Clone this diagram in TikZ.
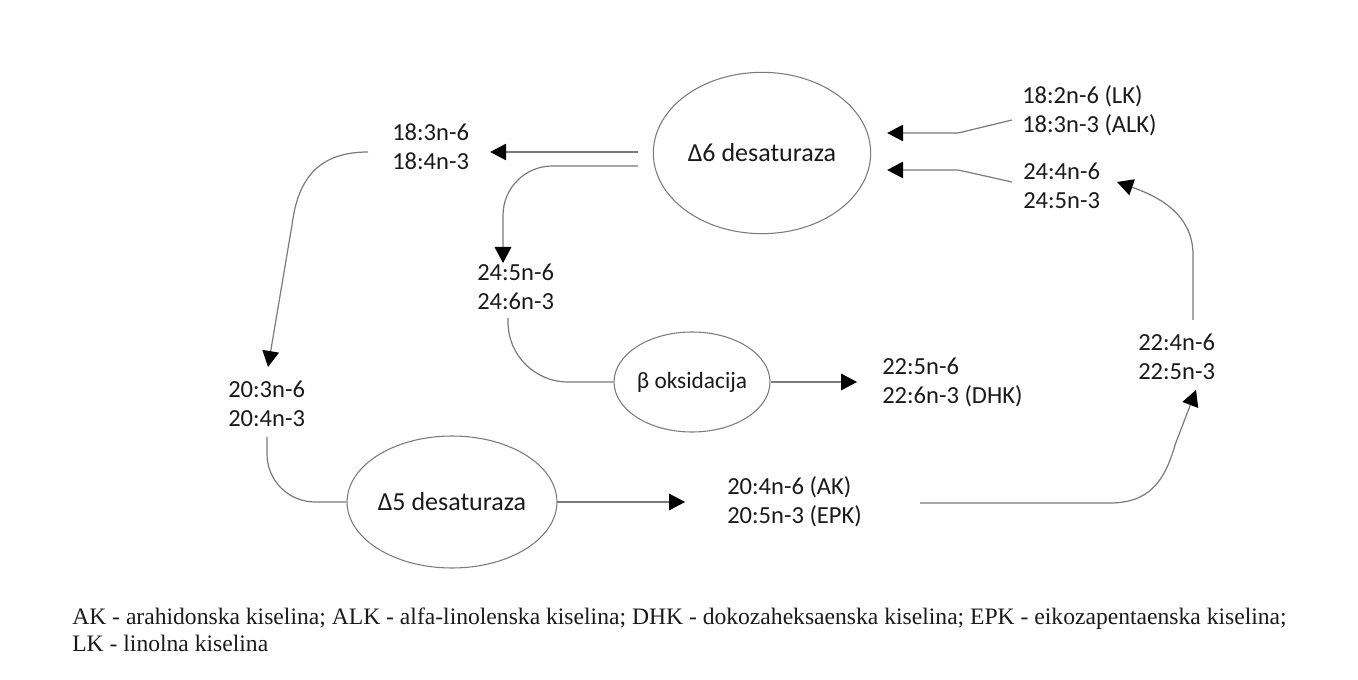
\documentclass[tikz,border=0pt]{standalone}
\usepackage{fontspec}
\setmainfont{Carlito}
\newfontfamily\legfont{Liberation Serif}
\usetikzlibrary{arrows.meta,shapes.geometric,calc}
\definecolor{linegray}{HTML}{7A7A7A}
\definecolor{txt}{HTML}{1A1A1A}
\begin{document}
\begin{tikzpicture}[x=0.75pt,y=-0.75pt,
  lbl/.style={anchor=west,align=left,inner sep=0pt,text=txt,font=\fontsize{18.4}{21.75}\selectfont},
  enz/.style={ellipse,draw=linegray,line width=0.8pt,inner sep=0pt,text=txt,font=\fontsize{19.5}{22}\selectfont},
  conn/.style={draw=linegray,line width=0.9pt,-{Triangle[length=12pt,width=12.5pt,color=black]}},
  plain/.style={draw=linegray,line width=0.9pt}]
\useasboundingbox (0,0) rectangle (1358,680);
% enzymes
\node[enz,minimum width=163pt,minimum height=121pt] (D6) at (762,153) {Δ6 desaturaza};
\node[enz,minimum width=127pt,minimum height=99pt] (D5) at (452,502) {Δ5 desaturaza};
\node[enz,minimum width=91pt,minimum height=75pt,font=\fontsize{17.5}{20}\selectfont] (B) at (692,382) {β oksidacija};
% labels
\node[lbl] (LK) at (1022,111) {18:2n-6 (LK)\\18:3n-3 (ALK)};
\node[lbl] (t24a) at (1023,186) {24:4n-6\\24:5n-3};
\node[lbl] (t18) at (392,147) {18:3n-6\\18:4n-3};
\node[lbl] (t24b) at (477,287) {24:5n-6\\24:6n-3};
\node[lbl] (t20a) at (228,404) {20:3n-6\\20:4n-3};
\node[lbl] (t22a) at (882,382) {22:5n-6\\22:6n-3 (DHK)};
\node[lbl] (t20b) at (727,502) {20:4n-6 (AK)\\20:5n-3 (EPK)};
\node[lbl] (t22b) at (1138,357) {22:4n-6\\22:5n-3};
% legend
\node[anchor=west,align=left,inner sep=0pt,text=txt,font=\legfont\fontsize{17.7}{20.5}\selectfont] (leg) at (72,630)
  {AK - arahidonska kiselina; ALK - alfa-linolenska kiselina; DHK - dokozaheksaenska kiselina; EPK - eikozapentaenska kiselina;\\LK - linolna kiselina};
% connectors
\draw[conn] ($(LK.west)+(-10,9)$) -- ($(D6.east)+(87,-20)$) -- ($(D6.east)+(16,-20)$);
\draw[conn] ($(t24a.west)+(-11,-4)$) -- ($(D6.east)+(87,17)$) -- ($(D6.east)+(16,17)$);
\draw[conn] ($(D6.west)+(-15,-1)$) -- ($(t18.east)+(21,5)$);
\draw[conn,rounded corners=37pt] ($(D6.west)+(-15,13)$) -| ($(t24b.west)+(26,-24)$);
\draw[conn] ($(t18.west)+(-24,5)$) .. controls ($(t18.west)+(-72,5)$) and ($(t18.west)+(-94,30)$) .. ($(t18.west)+(-100,78)$) -- ($(t20a.west)+(40,-37)$);
\draw[plain,rounded corners=36pt] ($(t20a.west)+(39,33)$) |- (D5.west);
\draw[conn] (D5.east) -- ($(t20b.west)+(-42,0)$);
\draw[conn] ($(t20b.west)+(193,1)$) -- ($(t20b.west)+(383,1)$) .. controls ($(t20b.west)+(423,1)$) and ($(t20b.west)+(438,-22)$) .. ($(t20b.west)+(448,-57)$) -- ($(t22b.west)+(58,33)$);
\draw[plain,rounded corners=45pt] ($(t24b.west)+(31,31)$) |- (B.west);
\draw[conn] (B.east) -- ($(t22a.west)+(-25,0)$);
\draw[conn] ($(t22b.west)+(55,-37)$) -- ($(t22b.west)+(55,-102)$) .. controls ($(t22b.west)+(55,-142)$) and ($(t22b.west)+(22,-160)$) .. ($(t24a.west)+(94,-4)$);
\end{tikzpicture}
\end{document}
